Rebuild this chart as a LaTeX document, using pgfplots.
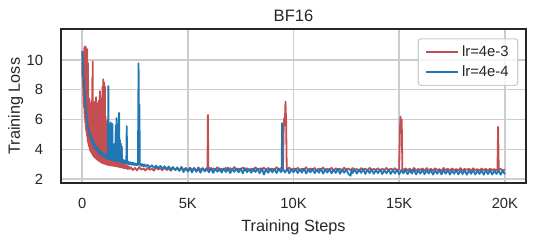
\documentclass[border=0pt]{standalone}
\usepackage{pgfplots}
\usepackage{pgfplotstable}
\pgfplotsset{compat=1.18}
\usepackage{fontspec}
\setmainfont{Liberation Sans}
\definecolor{sred}{HTML}{C44E52}
\definecolor{sblue}{HTML}{1F77B4}
\definecolor{gridc}{HTML}{CCCCCC}
\definecolor{txt}{HTML}{262626}

\pgfplotstableread{
x y
0 9.8
10 8.9
20 10.2
30 8.4
40 10.5
50 7.6
60 10.3
70 7.1
80 10.0
90 6.8
100 10.8
110 6.4
120 10.9
130 6.1
140 10.7
150 5.8
160 10.9
170 5.5
180 10.6
190 5.3
200 10.8
210 5.1
220 9.4
230 4.9
240 10.7
250 4.7
260 8.6
270 4.5
280 9.8
290 4.4
300 7.2
310 4.3
320 6.8
330 4.2
340 7.4
350 4.1
360 6.5
370 3.95
380 7.0
390 3.9
400 6.2
410 3.85
420 7.1
430 3.8
440 6.6
450 3.75
460 7.3
470 3.7
480 8.8
490 3.65
500 9.9
510 3.6
520 6.9
530 3.55
540 6.3
550 3.5
560 7.0
570 3.48
580 6.5
590 3.45
600 7.2
610 3.42
620 6.1
630 3.4
640 6.8
650 3.38
660 7.5
670 3.35
680 6.4
690 3.33
700 6.9
710 3.3
720 5.9
730 3.28
740 7.1
750 3.26
760 6.6
770 3.24
780 5.8
790 3.22
800 7.3
810 3.2
820 6.2
830 3.18
840 7.9
850 3.16
860 6.7
870 3.14
880 5.6
890 3.12
900 7.4
910 3.11
920 6.3
930 3.10
940 7.0
950 3.08
960 8.2
970 3.07
980 6.0
990 3.06
1000 8.7
1010 3.05
1020 7.6
1030 3.04
1040 8.5
1050 3.03
1060 6.8
1070 3.02
1080 8.2
1090 3.01
1100 6.2
1110 3.0
1120 5.6
1130 2.99
1140 5.9
1150 2.98
1160 5.2
1170 2.97
1180 4.8
1190 2.96
1200 4.6
1220 2.95
1240 4.4
1260 2.94
1280 4.6
1300 2.93
1320 4.1
1340 2.92
1360 3.9
1380 2.91
1400 4.2
1420 2.9
1440 3.8
1460 2.89
1480 3.7
1500 2.88
1520 4.0
1540 2.87
1560 3.6
1580 2.86
1600 3.5
1620 2.85
1640 3.7
1660 2.84
1680 3.4
1700 2.83
1720 3.3
1740 2.82
1760 3.5
1780 2.8
1800 3.2
1820 2.79
1840 3.3
1860 2.78
1870 4.2
1880 2.77
1900 3.1
1920 2.76
1940 3.0
1960 2.74
1980 3.05
2000 2.72
2040 2.95
2080 2.7
2120 2.9
2160 2.66
2200 2.85
2250 2.68
2300 2.78
2400 2.61
2500 2.74
2600 2.58
2700 2.80
2800 2.63
2900 2.71
3000 2.57
3100 2.76
3200 2.62
3300 2.69
3400 2.56
3500 2.79
3600 2.64
3700 2.72
3800 2.59
3900 2.77
4000 2.60
4100 2.70
4200 2.55
4300 2.75
4400 2.62
4500 2.68
4600 2.57
4700 2.81
4800 2.60
4900 2.73
5000 2.58
5100 2.76
5200 2.63
5300 2.70
5400 2.56
5500 2.78
5600 2.61
5700 2.72
5800 2.59
5900 2.74
5930 2.62
5950 6.30
5970 2.60
6000 2.77
6100 2.58
6200 2.71
6300 2.63
6400 2.79
6500 2.57
6600 2.68
6700 2.61
6800 2.75
6900 2.56
7000 2.73
7100 2.62
7200 2.80
7300 2.59
7400 2.70
7500 2.64
7600 2.77
7700 2.57
7800 2.72
7900 2.60
8000 2.69
8100 2.55
8200 2.78
8300 2.63
8400 2.71
8500 2.58
8600 2.76
8700 2.61
8800 2.74
8900 2.57
9000 2.70
9100 2.62
9200 2.79
9300 2.59
9400 2.73
9500 2.64
9530 5.10
9560 6.10
9590 5.60
9620 7.20
9650 5.90
9680 2.70
9700 2.60
9800 2.77
9900 2.56
10000 2.72
10100 2.61
10200 2.75
10300 2.58
10400 2.69
10500 2.63
10600 2.78
10700 2.57
10800 2.71
10900 2.60
11000 2.74
11100 2.56
11200 2.70
11300 2.62
11400 2.77
11500 2.59
11600 2.68
11700 2.61
11800 2.75
11900 2.55
12000 2.72
12100 2.63
12200 2.69
12300 2.57
12400 2.76
12500 2.60
12600 2.71
12700 2.58
12800 2.74
12900 2.62
13000 2.67
13100 2.55
13200 2.73
13300 2.61
13400 2.70
13500 2.57
13600 2.75
13700 2.59
13800 2.68
13900 2.62
14000 2.72
14100 2.56
14200 2.69
14300 2.60
14400 2.74
14500 2.58
14600 2.70
14700 2.61
14800 2.73
14900 2.57
15000 2.66
15030 5.00
15060 6.20
15090 5.40
15120 6.00
15150 2.70
15200 2.58
15300 2.72
15400 2.60
15500 2.69
15600 2.55
15700 2.74
15800 2.59
15900 2.67
16000 2.62
16100 2.71
16200 2.56
16300 2.73
16400 2.60
16500 2.68
16600 2.57
16700 2.72
16800 2.61
16900 2.66
17000 2.55
17100 2.74
17200 2.59
17300 2.69
17400 2.56
17500 2.71
17600 2.60
17700 2.67
17800 2.58
17900 2.73
18000 2.57
18100 2.68
18200 2.61
18300 2.70
18400 2.55
18500 2.72
18600 2.59
18700 2.66
18800 2.57
18900 2.71
19000 2.60
19100 2.68
19200 2.56
19300 2.70
19400 2.59
19500 2.67
19600 2.57
19650 2.66
19680 5.50
19710 2.62
19800 2.69
19900 2.56
20000 2.64
}\redtable

\pgfplotstableread{
x y
0 10.6
20 10.0
40 9.8
60 8.9
80 8.8
100 8.0
120 7.9
140 7.2
160 7.1
180 6.6
200 6.45
220 5.95
240 5.95
260 5.55
280 5.6
300 5.25
320 5.35
340 5.0
360 5.15
380 4.8
400 4.95
420 4.65
440 4.8
460 4.5
480 4.7
500 4.35
520 4.55
540 4.25
560 4.45
580 4.15
600 4.35
620 4.05
640 4.25
660 3.98
680 4.15
700 3.9
720 4.08
740 3.85
760 4.0
780 3.78
800 3.95
820 3.7
840 3.9
860 3.65
880 3.85
900 3.6
920 3.8
940 3.57
960 3.75
980 3.52
1000 3.7
1020 3.5
1040 3.66
1060 3.46
1080 3.62
1100 3.42
1120 3.6
1140 3.4
1160 3.56
1180 3.38
1200 3.54
1220 3.36
1240 8.25
1255 3.5
1270 3.34
1290 5.2
1310 3.33
1330 3.5
1350 5.8
1370 3.3
1390 4.3
1410 3.28
1430 5.7
1450 3.3
1470 3.45
1490 3.25
1510 3.42
1530 3.22
1550 4.4
1570 3.22
1590 5.6
1610 3.25
1630 6.1
1650 3.2
1670 4.9
1690 3.22
1710 5.7
1730 3.18
1750 6.45
1770 3.2
1790 4.6
1810 3.16
1830 4.4
1850 3.15
1870 4.1
1890 3.12
1910 3.3
1930 3.1
1950 3.28
1970 3.08
1990 3.25
2010 3.06
2030 3.22
2050 3.05
2070 3.2
2090 3.03
2110 5.55
2130 3.02
2150 3.18
2170 3.0
2200 3.15
2250 2.98
2300 3.12
2350 2.96
2400 3.1
2450 2.94
2500 3.05
2550 2.92
2600 3.04
2640 2.93
2670 9.78
2690 3.0
2710 7.0
2730 2.95
2760 3.02
2800 2.88
2850 3.0
2900 2.86
2950 2.98
3000 2.84
3100 2.95
3200 2.78
3300 2.92
3400 2.75
3500 2.9
3600 2.72
3700 2.88
3800 2.7
3900 2.86
4000 2.66
4100 2.84
4200 2.64
4300 2.8
4400 2.6
4500 2.78
4600 2.55
4700 2.77
4800 2.47
4900 2.74
5000 2.5
5100 2.72
5200 2.44
5300 2.75
5400 2.48
5500 2.7
5600 2.42
5700 2.73
5800 2.5
5900 2.69
6000 2.45
6100 2.74
6200 2.41
6300 2.68
6400 2.49
6500 2.72
6600 2.43
6700 2.7
6800 2.47
6900 2.75
7000 2.4
7100 2.67
7200 2.48
7300 2.71
7400 2.44
7500 2.69
7600 2.38
7700 2.73
7800 2.46
7900 2.66
8000 2.42
8100 2.7
8200 2.47
8300 2.68
8400 2.39
8500 2.72
8600 2.3
8700 2.66
8800 2.41
8900 2.7
9000 2.44
9100 2.67
9200 2.4
9300 2.71
9400 2.46
9440 2.6
9460 5.75
9480 2.55
9500 2.68
9600 2.43
9700 2.7
9800 2.38
9900 2.66
10000 2.45
10100 2.69
10200 2.4
10300 2.65
10400 2.43
10500 2.7
10600 2.37
10700 2.66
10800 2.44
10900 2.68
11000 2.39
11100 2.64
11200 2.42
11300 2.69
11400 2.36
11500 2.65
11600 2.43
11700 2.67
11800 2.38
11900 2.63
12000 2.41
12100 2.68
12200 2.35
12300 2.64
12400 2.42
12500 2.66
12600 2.34
12700 2.22
12750 2.62
12800 2.4
12900 2.65
13000 2.36
13100 2.63
13200 2.41
13300 2.66
13400 2.34
13500 2.62
13600 2.4
13700 2.65
13800 2.35
13900 2.61
14000 2.39
14100 2.64
14200 2.33
14300 2.6
14400 2.38
14500 2.63
14600 2.34
14700 2.61
14800 2.37
14900 2.64
15000 2.32
15100 2.6
15200 2.38
15300 2.62
15400 2.33
15500 2.59
15600 2.37
15700 2.63
15800 2.31
15900 2.6
16000 2.36
16100 2.62
16200 2.32
16300 2.58
16400 2.37
16500 2.61
16600 2.3
16700 2.59
16800 2.35
16900 2.62
17000 2.31
17100 2.58
17200 2.36
17300 2.6
17400 2.3
17500 2.57
17600 2.35
17700 2.61
17800 2.31
17900 2.58
18000 2.34
18100 2.6
18200 2.29
18300 2.57
18400 2.35
18500 2.59
18600 2.3
18700 2.56
18800 2.34
18900 2.6
19000 2.29
19100 2.57
19200 2.33
19300 2.58
19400 2.3
19500 2.56
19600 2.34
19700 2.59
19800 2.29
19900 2.57
20000 2.32
}\bluetable

\begin{document}
\begin{tikzpicture}
\begin{axis}[
  at={(0,0)}, anchor=south west,
  scale only axis,
  width=334.8pt, height=110.95pt,
  xmin=-1000, xmax=21000,
  ymin=1.71, ymax=12.07,
  xtick={0,5000,10000,15000,20000},
  xticklabels={0,5K,10K,15K,20K},
  ytick={2,4,6,8,10},
  yticklabels={2,4,6,8,10},
  scaled x ticks=false,
  major tick length=0pt,
  grid=major,
  major grid style={draw=gridc, line width=1pt},
  axis line style={draw=txt, line width=1.25pt},
  tick label style={font=\fontsize{10.6}{12}\selectfont, text=txt},
  xticklabel style={anchor=north, inner sep=0pt, yshift=-10.6pt},
  yticklabel style={anchor=east, inner sep=0pt, xshift=-12.7pt},
  xlabel={Training Steps},
  ylabel={Training Loss},
  xlabel style={at={(axis description cs:0.5,-0.2334)}, anchor=north, inner sep=0pt, font=\fontsize{11.7}{14}\selectfont, text=txt},
  ylabel style={at={(axis description cs:-0.1141,0.5)}, anchor=north, inner sep=0pt, font=\fontsize{11.7}{14}\selectfont, text=txt},
  title={BF16},
  every axis title shift=0pt,
  title style={at={(axis description cs:0.5,1.0487)}, anchor=base, inner sep=0pt, font=\fontsize{11.9}{14}\selectfont, text=txt},
  legend style={at={(axis description cs:0.9834,0.941)}, anchor=north east,
    draw=gridc, line width=0.8pt, fill=white, fill opacity=0.8, text opacity=1,
    rounded corners=2pt, font=\fontsize{10.7}{12}\selectfont, text=txt,
    inner xsep=4.5pt, inner ysep=3pt, row sep=1pt,
    nodes={inner sep=2pt}},
  legend cell align=left,
  legend image code/.code={\draw[#1, line width=1.5pt] (0pt,0pt) -- (23.5pt,0pt);},
]
\addplot[sred, line width=1.3pt, line join=round] table[x=x,y=y] {\redtable};
\addlegendentry{lr=4e-3}
\addplot[sblue, line width=1.3pt, line join=round] table[x=x,y=y] {\bluetable};
\addlegendentry{lr=4e-4}
\end{axis}
\pgfresetboundingbox
\path[use as bounding box] (-43.92pt,-42.26pt) rectangle (341.28pt,131.98pt);
\end{tikzpicture}
\end{document}
